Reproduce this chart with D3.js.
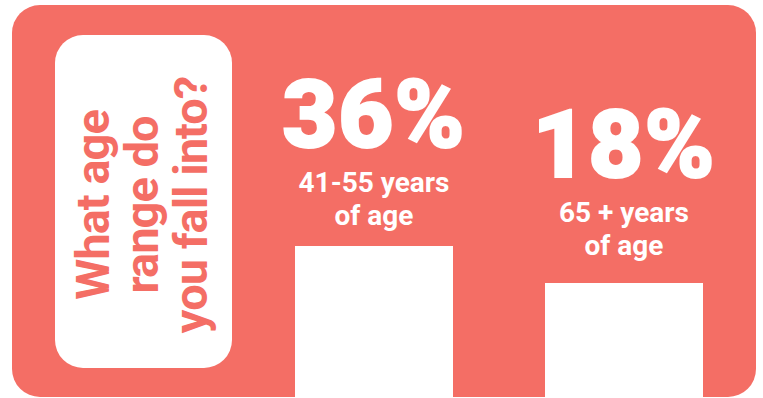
<!DOCTYPE html>
<html>
<head>
<meta charset="utf-8">
<script src="https://cdn.jsdelivr.net/npm/d3@7"></script>
<style>
  html, body { margin: 0; padding: 0; background: #ffffff; }
  svg { display: block; }
</style>
</head>
<body>
<div id="chart"></div>
<script>
// Data
const categories = ["41-55", "65+"];
const values = [36, 18];
const valueLabels = ["36%", "18%"];
const subLabels = [["41-55 years", "of age"], ["65 + years", "of age"]];
const titleLines = ["What age", "range do", "you fall into?"];

const width = 763;
const height = 398;
const coral = "#f46e65";

const svg = d3.select("#chart").append("svg")
    .attr("width", width)
    .attr("height", height);

// Background card
svg.append("rect")
    .attr("x", 12)
    .attr("y", 5)
    .attr("width", 744)
    .attr("height", 392)
    .attr("rx", 28)
    .attr("fill", coral);

// Question box on the left
svg.append("rect")
    .attr("x", 55)
    .attr("y", 35)
    .attr("width", 177)
    .attr("height", 333)
    .attr("rx", 28)
    .attr("fill", "#ffffff");

const title = svg.append("g")
    .attr("transform", "translate(146,205) rotate(-90)");

title.selectAll("text")
    .data(titleLines)
    .enter().append("text")
    .attr("x", 0)
    .attr("y", (d, i) => -37 + i * 49)
    .attr("text-anchor", "middle")
    .style("font-family", "Roboto, sans-serif")
    .style("font-weight", "700")
    .style("font-size", "47px")
    .style("letter-spacing", "-1px")
    .attr("fill", coral)
    .text(d => d);

// Scales
const x = d3.scaleBand()
    .domain(categories)
    .range([249, 749])
    .paddingInner(0.368)
    .paddingOuter(0.184);

const y = d3.scaleLinear()
    .domain([0, 36])
    .range([320, 246]);

// label baseline scale (labels sit above the bars)
const yLabel = d3.scaleLinear()
    .domain([0, 36])
    .range([207, 147]);

const plotBottom = height;

// Bars
svg.selectAll(".bar")
    .data(values)
    .enter().append("rect")
    .attr("class", "bar")
    .attr("x", (d, i) => x(categories[i]))
    .attr("y", d => y(d))
    .attr("width", x.bandwidth())
    .attr("height", d => plotBottom - y(d))
    .attr("fill", "#ffffff");

// Big percentage labels
svg.selectAll(".pct")
    .data(values)
    .enter().append("text")
    .attr("class", "pct")
    .attr("x", (d, i) => x(categories[i]) + x.bandwidth() / 2)
    .attr("y", d => yLabel(d))
    .attr("text-anchor", "middle")
    .style("font-family", "Roboto, sans-serif")
    .style("font-weight", "900")
    .style("font-size", "95px")
    .style("letter-spacing", "1px")
    .attr("fill", "#ffffff")
    .attr("stroke", "#ffffff")
    .attr("stroke-width", 2)
    .text((d, i) => valueLabels[i]);

// Sub labels, two lines each
values.forEach((v, i) => {
    svg.append("text")
        .attr("x", x(categories[i]) + x.bandwidth() / 2)
        .attr("y", yLabel(v) + 45)
        .attr("text-anchor", "middle")
        .style("font-family", "Roboto, sans-serif")
        .style("font-weight", "700")
        .style("font-size", "28px")
        .attr("fill", "#ffffff")
        .selectAll("tspan")
        .data(subLabels[i])
        .enter().append("tspan")
        .attr("x", x(categories[i]) + x.bandwidth() / 2)
        .attr("dy", (d, j) => j === 0 ? 0 : 33)
        .text(d => d);
});
</script>
</body>
</html>
